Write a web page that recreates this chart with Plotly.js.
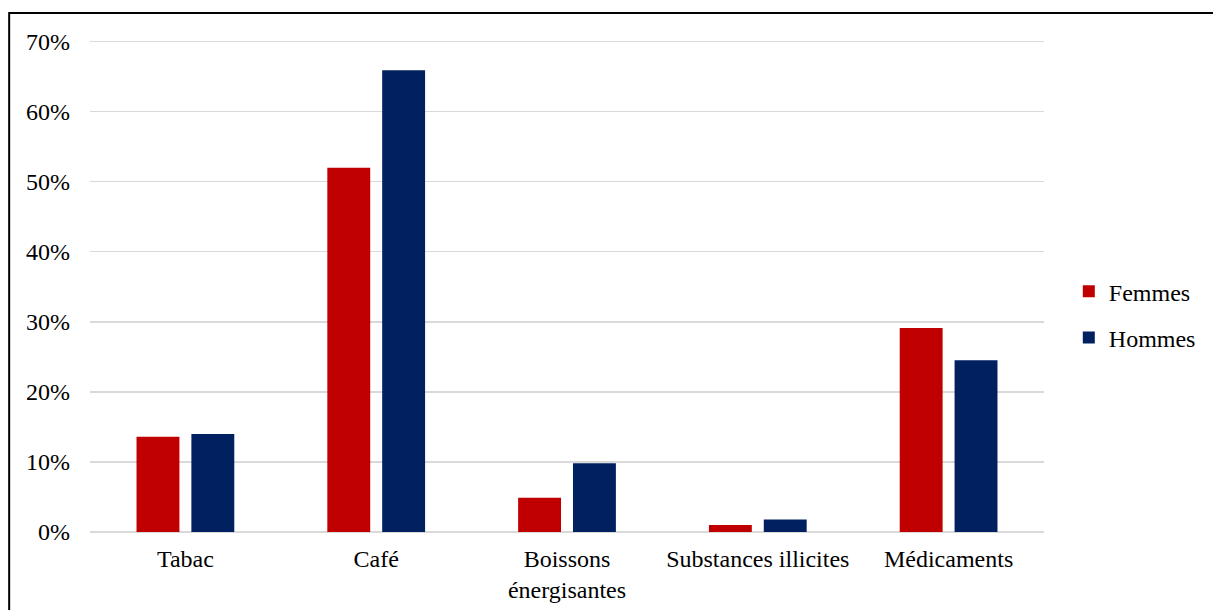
<!DOCTYPE html>
<html>
<head>
<meta charset="utf-8">
<script src="https://cdn.plot.ly/plotly-3.0.1.min.js"></script>
<style>
  html, body { margin: 0; padding: 0; background: #fff; }
  #chart { width: 1213px; height: 610px; }
</style>
</head>
<body>
<div id="chart"></div>
<script>
const categories = ["Tabac", "Café", "Boissons<br>énergisantes", "Substances illicites", "Médicaments"];
const femmes = [13.6, 52.0, 4.9, 1.0, 29.1];
const hommes = [14.0, 65.9, 9.8, 1.8, 24.5];
const seriesNames = ["Femmes", "Hommes"];
const yTickVals = [0, 10, 20, 30, 40, 50, 60, 70];
const yTickText = yTickVals.map(v => v + "%");

const fontFamily = "'Liberation Serif', 'Times New Roman', serif";
const fs = 24;

const traces = [
  {
    type: "bar", name: seriesNames[0], x: categories, y: femmes,
    marker: { color: "#c00000", line: { width: 0 } },
    legendgroup: "f", hoverinfo: "none"
  },
  {
    type: "bar", name: seriesNames[1], x: categories, y: hommes,
    marker: { color: "#002060", line: { width: 0 } },
    legendgroup: "h", hoverinfo: "none"
  }
];

const layout = {
  width: 1213, height: 610,
  margin: { l: 90, r: 167, t: 38, b: 78 },
  paper_bgcolor: "#ffffff", plot_bgcolor: "#ffffff",
  font: { family: fontFamily, size: fs, color: "#000000" },
  barmode: "group",
  bargap: 0.425,
  bargroupgap: 0.218,
  showlegend: true,
  legend: {
    x: 1.026, xanchor: "left", y: 0.44, yanchor: "middle",
    traceorder: "grouped", tracegroupgap: 12,
    font: { family: fontFamily, size: fs, color: "#000" },
    itemwidth: 30, bgcolor: "rgba(0,0,0,0)"
  },
  xaxis: {
    type: "category",
    showgrid: false, zeroline: false, showline: false,
    ticks: "", ticklabelstandoff: 10,
    tickfont: { family: fontFamily, size: fs },
    fixedrange: true
  },
  yaxis: {
    range: [0, 70.5], tickmode: "array", tickvals: yTickVals, ticktext: yTickText,
    showgrid: true, gridcolor: "#d9d9d9", gridwidth: 1.5,
    zeroline: true, zerolinecolor: "#d9d9d9", zerolinewidth: 1.5,
    showline: false, ticks: "", ticklabelstandoff: 19,
    tickfont: { family: fontFamily, size: fs },
    fixedrange: true
  },
  shapes: [
    {
      type: "rect", xref: "paper", yref: "paper",
      x0: (9 - 90) / 956, x1: 2,
      y0: -1, y1: (532 - 13) / 494,
      line: { color: "#000000", width: 2 }, fillcolor: "rgba(0,0,0,0)", layer: "above"
    }
  ]
};

Plotly.newPlot("chart", traces, layout, { displayModeBar: false, staticPlot: true });
</script>
</body>
</html>
